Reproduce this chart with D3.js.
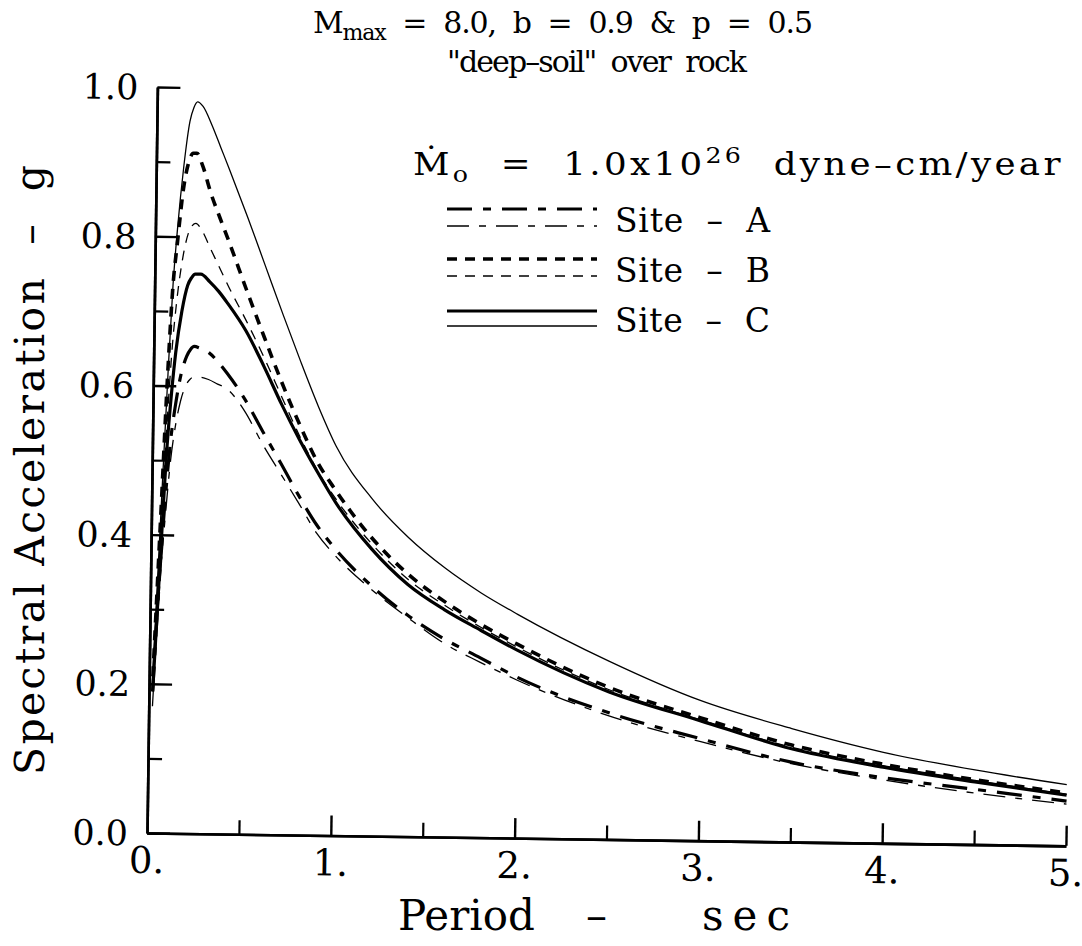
<!DOCTYPE html>
<html>
<head>
<meta charset="utf-8">
<script src="https://cdn.jsdelivr.net/npm/d3@7"></script>
<style>
  body { margin: 0; background: #fff; }
  text { font-family: "DejaVu Serif", serif; fill: #000; white-space: pre; }
</style>
</head>
<body>
<div id="chart"></div>
<script>
// periods (sec) and spectral acceleration (g)
const periods = [0.02, 0.05, 0.08, 0.1, 0.12, 0.15, 0.18, 0.2, 0.22, 0.25, 0.3, 0.35, 0.4, 0.5, 0.6,
    0.7, 0.8, 0.9, 1.0, 1.2, 1.4, 1.6, 1.8, 2.0, 2.5, 3.0, 3.5, 4.0, 4.5, 5.0];

const siteCThin = [0.22, 0.42, 0.62, 0.735, 0.81, 0.895, 0.955, 0.973, 0.981, 0.975, 0.950, 0.920, 0.890, 0.828, 0.763,
    0.698, 0.635, 0.575, 0.522, 0.452, 0.401, 0.361, 0.328, 0.300, 0.239, 0.188, 0.152, 0.122, 0.100, 0.082];
const siteBThick = [0.21, 0.42, 0.63, 0.735, 0.79, 0.865, 0.903, 0.912, 0.912, 0.897, 0.858, 0.826, 0.795, 0.730, 0.667,
    0.606, 0.550, 0.500, 0.463, 0.400, 0.352, 0.316, 0.286, 0.260, 0.204, 0.165, 0.130, 0.106, 0.087, 0.071];
const siteBThin = [0.19, 0.38, 0.56, 0.65, 0.71, 0.77, 0.805, 0.815, 0.818, 0.81, 0.785, 0.760, 0.735, 0.689, 0.640,
    0.587, 0.535, 0.489, 0.452, 0.392, 0.345, 0.311, 0.282, 0.256, 0.201, 0.162, 0.127, 0.104, 0.086, 0.069];
const siteCThick = [0.19, 0.36, 0.52, 0.59, 0.645, 0.70, 0.735, 0.745, 0.75, 0.75, 0.740, 0.727, 0.711, 0.675, 0.628,
    0.577, 0.530, 0.487, 0.447, 0.385, 0.338, 0.305, 0.278, 0.252, 0.198, 0.161, 0.125, 0.102, 0.084, 0.068];
const siteAThick = [0.19, 0.35, 0.47, 0.53, 0.57, 0.615, 0.64, 0.649, 0.653, 0.651, 0.645, 0.633, 0.618, 0.583, 0.540,
    0.498, 0.455, 0.416, 0.385, 0.336, 0.297, 0.266, 0.241, 0.216, 0.170, 0.137, 0.107, 0.088, 0.074, 0.060];
const siteAThin = [0.17, 0.33, 0.44, 0.50, 0.54, 0.58, 0.602, 0.609, 0.612, 0.612, 0.609, 0.603, 0.597, 0.567, 0.523,
    0.484, 0.445, 0.405, 0.376, 0.331, 0.294, 0.260, 0.235, 0.212, 0.166, 0.133, 0.105, 0.085, 0.069, 0.056];

const yMajorTicks = [0, 0.2, 0.4, 0.6, 0.8, 1.0];
const yMinorTicks = [0.1, 0.3, 0.5, 0.7, 0.9];
const xMajorTicks = [1, 2, 3, 4, 5];
const xMinorTicks = [0.5, 1.5, 2.5, 3.5, 4.5];
const xLabels = [0, 1, 2, 3, 4, 5];
const siteNames = ['Site  \u2013  A', 'Site  \u2013  B', 'Site  \u2013  C'];

const W = 1082, H = 946;
const x0 = 147, x1 = 1066, yBase = 833, yTop = 87;
const tilt = 0.8; // the scanned plot sits slightly rotated

const dashA = '25,11,8,11', dashAThin = '22,10,7,10', dashB = '10,8';

const series = [
    { values: siteCThin, width: 1.3, dash: null },
    { values: siteBThin, width: 1.3, dash: dashB },
    { values: siteAThin, width: 1.3, dash: dashAThin },
    { values: siteCThick, width: 3.2, dash: null },
    { values: siteBThick, width: 3.6, dash: dashB },
    { values: siteAThick, width: 3.2, dash: dashA }
];

const svg = d3.select('#chart').append('svg')
    .attr('width', W)
    .attr('height', H)
    .style('display', 'block');

svg.append('rect').attr('width', W).attr('height', H).attr('fill', '#fff');

const x = d3.scaleLinear().domain([0, 5]).range([x0, x1]);
const y = d3.scaleLinear().domain([0, 1]).range([yBase, yTop]);

const plot = svg.append('g').attr('transform', `rotate(${tilt},${x0},${yBase})`);

function styleAxis(g, w) {
    g.selectAll('text').remove();
    g.selectAll('line').attr('stroke', '#000').attr('stroke-width', w);
    g.select('.domain').attr('stroke', '#000').attr('stroke-width', 2.6);
}

// y axis, ticks pointing inward
plot.append('g')
    .attr('transform', `translate(${x0},0)`)
    .call(d3.axisLeft(y).tickValues(yMinorTicks).tickSize(-14).tickSizeOuter(0))
    .call(g => styleAxis(g, 2.2));
plot.append('g')
    .attr('transform', `translate(${x0},0)`)
    .call(d3.axisLeft(y).tickValues(yMajorTicks).tickSize(-23).tickSizeOuter(0))
    .call(g => styleAxis(g, 2.4));

// x axis
plot.append('g')
    .attr('transform', `translate(0,${yBase})`)
    .call(d3.axisBottom(x).tickValues(xMinorTicks).tickSize(-14).tickSizeOuter(0))
    .call(g => styleAxis(g, 2.2));
plot.append('g')
    .attr('transform', `translate(0,${yBase})`)
    .call(d3.axisBottom(x).tickValues(xMajorTicks).tickSize(-20).tickSizeOuter(0))
    .call(g => styleAxis(g, 2.4));

plot.selectAll('.xlab')
    .data(xLabels)
    .join('text')
    .attr('class', 'xlab')
    .attr('x', d => x(d))
    .attr('y', yBase + 40)
    .attr('text-anchor', 'middle')
    .attr('font-size', 37)
    .text(d => d + '.');

plot.selectAll('.ylab')
    .data(yMajorTicks)
    .join('text')
    .attr('class', 'ylab')
    .attr('x', x0 - 19)
    .attr('y', d => y(d))
    .attr('dy', '0.36em')
    .attr('text-anchor', 'end')
    .attr('font-size', 35)
    .text(d3.format('.1f'));

// curves
const line = d3.line()
    .x((d, i) => x(periods[i]))
    .y(d => y(d))
    .curve(d3.curveMonotoneX);

plot.selectAll('.curve')
    .data(series)
    .join('path')
    .attr('class', 'curve')
    .attr('d', d => line(d.values))
    .attr('fill', 'none')
    .attr('stroke', '#000')
    .attr('stroke-width', d => d.width)
    .attr('stroke-dasharray', d => d.dash)
    .attr('stroke-linejoin', 'round');

// axis titles
const xt = svg.append('text')
    .attr('y', 930)
    .attr('font-size', 42);
xt.append('tspan').attr('x', 398).text('Period');
xt.append('tspan').attr('x', 586).text('\u2013');
xt.append('tspan').attr('x', 702).attr('letter-spacing', 9).text('sec');

svg.append('text')
    .attr('transform', 'translate(44,775) rotate(-90)')
    .attr('font-size', 41)
    .attr('textLength', 610)
    .attr('lengthAdjust', 'spacing')
    .text('Spectral Acceleration  \u2013  g');

// titles
const t1 = svg.append('text')
    .attr('x', 313)
    .attr('y', 33)
    .attr('font-size', 30)
    .attr('textLength', 500)
    .attr('lengthAdjust', 'spacing');
t1.append('tspan').text('M');
t1.append('tspan').attr('font-size', 22).attr('dy', 7).text('max');
t1.append('tspan').attr('dy', -7).text('  =  8.0,  b  =  0.9  &  p  =  0.5');

svg.append('text')
    .attr('x', 447)
    .attr('y', 72)
    .attr('font-size', 30)
    .attr('textLength', 300)
    .attr('lengthAdjust', 'spacing')
    .text('"deep\u2013soil"  over  rock');

const t3 = svg.append('text')
    .attr('transform', 'translate(413,175) scale(1.15,1)')
    .attr('font-size', 31)
    .attr('textLength', 563)
    .attr('lengthAdjust', 'spacing');
t3.append('tspan').text('\u1E40');
t3.append('tspan').attr('font-size', 22).attr('dy', 7).text('o');
t3.append('tspan').attr('dy', -7).text('  =  1.0x10');
t3.append('tspan').attr('font-size', 22).attr('dy', -12).text('26');
t3.append('tspan').attr('dy', 12).text('  dyne\u2013cm/year');

// legend
const legend = svg.append('g');
const legendRows = [
    { name: siteNames[0], thick: series[5], thin: series[2] },
    { name: siteNames[1], thick: series[4], thin: series[1] },
    { name: siteNames[2], thick: series[3], thin: series[0] }
];
legendRows.forEach((r, i) => {
    const base = 232 + i * 50;
    const yThick = base - 23 + (i === 2 ? 2 : 0);
    legend.append('line')
        .attr('x1', 447).attr('x2', 597)
        .attr('y1', yThick).attr('y2', yThick)
        .attr('stroke', '#000')
        .attr('stroke-width', r.thick.width)
        .attr('stroke-dasharray', r.thick.dash);
    legend.append('line')
        .attr('x1', 447).attr('x2', 597)
        .attr('y1', base - 6).attr('y2', base - 6)
        .attr('stroke', '#000')
        .attr('stroke-width', r.thin.width)
        .attr('stroke-dasharray', r.thin.dash);
    legend.append('text')
        .attr('x', 615)
        .attr('y', base)
        .attr('font-size', 33)
        .attr('textLength', 155)
        .attr('lengthAdjust', 'spacing')
        .text(r.name);
});
</script>
</body>
</html>
